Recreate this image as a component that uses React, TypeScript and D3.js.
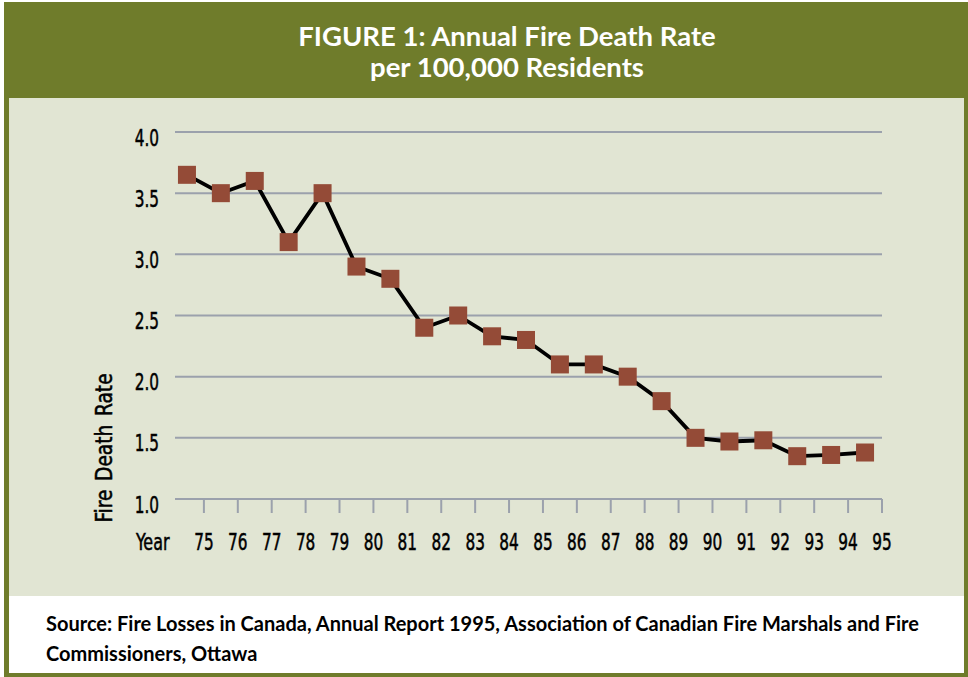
import { useRef, useEffect } from "react";
import * as d3 from "d3";

const years = ["75","76","77","78","79","80","81","82","83","84","85","86","87","88","89","90","91","92","93","94","95"];
const rates = [3.65,3.5,3.6,3.1,3.5,2.9,2.8,2.4,2.5,2.33,2.3,2.1,2.1,2.0,1.8,1.5,1.47,1.48,1.35,1.36,1.38];
const yTicks = [1.0,1.5,2.0,2.5,3.0,3.5,4.0];

const OLIVE = "#6f7c2b";
const PANEL = "#e1e5d3";
const GRID = "#9ba1ac";
const MARKER = "#944b37";
const NARROW = "'Liberation Sans Narrow', 'DejaVu Sans Condensed', sans-serif";
const HUMAN = "Lato, 'Open Sans', sans-serif";
const SQUEEZE = 0.74;

export default function App() {
  const svgRef = useRef<SVGSVGElement>(null);

  useEffect(() => {
    drawChart();
  }, []);

  function drawChart() {
    if (!svgRef.current) return;
    const svg = d3.select(svgRef.current);
    svg.selectAll("*").remove();

    const W = 968, H = 677;

    svg.append("rect").attr("width", W).attr("height", H).attr("fill", "#fff");
    svg.append("rect").attr("x", 4).attr("y", 2).attr("width", W - 4).attr("height", H - 2).attr("fill", OLIVE);
    svg.append("rect").attr("x", 9).attr("y", 98).attr("width", 955).attr("height", 498).attr("fill", PANEL);
    svg.append("rect").attr("x", 9).attr("y", 596).attr("width", 955).attr("height", 77).attr("fill", "#fff");

    // title
    const title = svg.append("text")
      .attr("text-anchor", "middle")
      .attr("fill", "#fff")
      .style("font-family", HUMAN)
      .style("font-weight", "bold")
      .style("font-size", "27.5px");
    title.append("tspan").attr("x", 507).attr("y", 46).text("FIGURE 1: Annual Fire Death Rate");
    title.append("tspan").attr("x", 507).attr("y", 77).text("per 100,000 Residents");

    const x = d3.scaleBand<string>().domain(years).range([170, 882]);
    const y = d3.scaleLinear().domain([1, 4]).range([499, 132]);
    const bw = x.bandwidth();

    // gridlines
    svg.append("g")
      .selectAll("line")
      .data(yTicks)
      .enter()
      .append("line")
      .attr("x1", 175)
      .attr("x2", 882)
      .attr("y1", (d) => y(d))
      .attr("y2", (d) => y(d))
      .attr("stroke", GRID)
      .attr("stroke-width", 2);

    // x ticks
    svg.append("g")
      .selectAll("line")
      .data(years)
      .enter()
      .append("line")
      .attr("x1", (d) => x(d)! + bw)
      .attr("x2", (d) => x(d)! + bw)
      .attr("y1", y(1))
      .attr("y2", y(1) + 14)
      .attr("stroke", GRID)
      .attr("stroke-width", 2);

    const axisText = (sel: d3.Selection<SVGTextElement, any, any, any>) =>
      sel
        .style("font-family", NARROW)
        .style("font-size", "23px")
        .attr("fill", "#000")
        .attr("stroke", "#000")
        .attr("stroke-width", 0.5);

    // y labels
    svg.append("g")
      .selectAll("text")
      .data(yTicks)
      .enter()
      .append("text")
      .attr("transform", (d) => `translate(159, ${y(d) + 13.5}) scale(${SQUEEZE}, 1)`)
      .attr("text-anchor", "end")
      .call(axisText)
      .text((d) => d.toFixed(1));

    // x labels
    svg.append("g")
      .selectAll("text")
      .data(years)
      .enter()
      .append("text")
      .attr("transform", (d) => `translate(${x(d)! + bw}, 550) scale(${SQUEEZE}, 1)`)
      .attr("text-anchor", "middle")
      .call(axisText)
      .text((d) => d);

    svg.append("text")
      .attr("transform", `translate(136, 550) scale(0.77, 1)`)
      .call(axisText)
      .text("Year");

    svg.append("text")
      .attr("transform", "translate(112, 448) rotate(-90) scale(0.9, 1)")
      .attr("text-anchor", "middle")
      .call(axisText)
      .style("word-spacing", "3px")
      .text("Fire Death Rate");

    // line
    const line = d3.line<number>()
      .x((_, i) => x(years[i])! + bw / 2)
      .y((d) => y(d));

    svg.append("path")
      .datum(rates)
      .attr("d", line)
      .attr("fill", "none")
      .attr("stroke", "#000")
      .attr("stroke-width", 3.8);

    svg.append("g")
      .selectAll("rect")
      .data(rates)
      .enter()
      .append("rect")
      .attr("x", (_, i) => x(years[i])! + bw / 2 - 9)
      .attr("y", (d) => y(d) - 9)
      .attr("width", 18)
      .attr("height", 18)
      .attr("fill", MARKER);

    // source
    const src = svg.append("text")
      .style("font-family", HUMAN)
      .style("font-weight", "bold")
      .style("font-size", "20px")
      .attr("fill", "#000");
    src.append("tspan").attr("x", 46).attr("y", 631)
      .text("Source: Fire Losses in Canada, Annual Report 1995, Association of Canadian Fire Marshals and Fire");
    src.append("tspan").attr("x", 46).attr("y", 661).text("Commissioners,  Ottawa");
  }

  return (
    <svg
      ref={svgRef}
      width={968}
      height={677}
      style={{ position: "absolute", left: 0, top: 0 }}
    />
  );
}
